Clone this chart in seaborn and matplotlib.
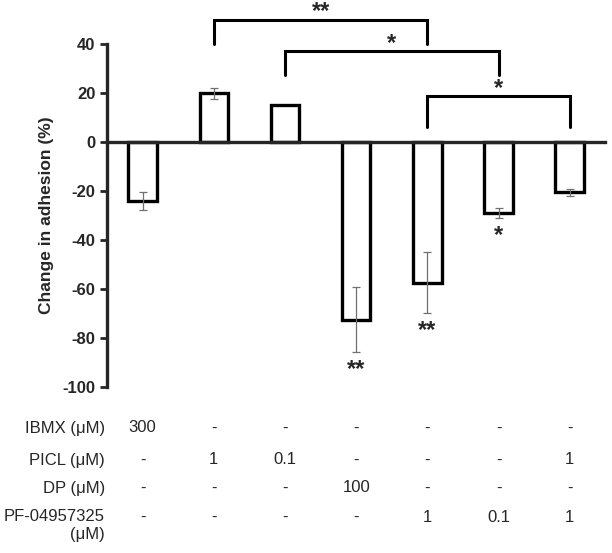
import numpy as np
import pandas as pd
import matplotlib
matplotlib.use("Agg")
import matplotlib.pyplot as plt
import seaborn as sns

sns.set_style("ticks")
plt.rcParams["font.family"] = ["Liberation Sans", "DejaVu Sans"]
plt.rcParams["axes.unicode_minus"] = False

# values
groups = ["g1", "g2", "g3", "g4", "g5", "g6", "g7"]
change = [-24, 20, 15, -72.5, -57.3, -29, -20.5]
err = [3.6, 2.2, 0, 13.2, 12.3, 2.1, 1.4]
below_stars = {3: "**", 4: "**", 5: "*"}
# brackets: (left bar, right bar, top y, leg bottom y, label)
brackets = [(1, 4, 50, 40, "**"), (2, 5, 37.3, 27.6, "*"), (4, 6, 18.9, 6.2, "*")]

row_labels = ["IBMX (μM)", "PICL (μM)", "DP (μM)", "PF-04957325\n(μM)"]
row_values = [
    ["300", "-", "-", "-", "-", "-", "-"],
    ["-", "1", "0.1", "-", "-", "-", "1"],
    ["-", "-", "-", "100", "-", "-", "-"],
    ["-", "-", "-", "-", "1", "0.1", "1"],
]

df = pd.DataFrame({"group": groups, "change": change})

fig = plt.figure(figsize=(6.12, 5.53), dpi=100)
ax = fig.add_axes([0.175, 0.300, 0.814, 0.620])

sns.barplot(data=df, x="group", y="change", ax=ax, width=0.4, color="white",
            edgecolor="black", linewidth=2.4, errorbar=None)
xpos = np.arange(len(groups))
has_err = np.array(err) > 0
ax.errorbar(xpos[has_err], np.array(change)[has_err], yerr=np.array(err)[has_err],
            fmt="none", ecolor="#707070", elinewidth=0.9, capsize=3,
            capthick=0.9, zorder=3)

ax.set_xlim(-0.5, 6.5)
ax.set_ylim(-100, 40)
ax.set_yticks(range(-100, 41, 20))
ax.tick_params(axis="y", labelsize=12, width=2, length=5, direction="out")
for t in ax.get_yticklabels():
    t.set_fontweight("bold")
ax.set_xticks([])
ax.set_xlabel("")
ax.set_ylabel("Change in adhesion (%)", fontsize=12.5, fontweight="bold", labelpad=6)
ax.spines["top"].set_visible(False)
ax.spines["right"].set_visible(False)
ax.spines["bottom"].set_position(("data", 0))
ax.spines["bottom"].set_linewidth(2.4)
ax.spines["left"].set_linewidth(2.4)

# significance stars under bars
for i, s in below_stars.items():
    ax.text(i, change[i] - err[i] - 2.5, s, ha="center", va="top",
            fontsize=17, fontweight="bold")

# brackets above
for a, b, top, bot, s in brackets:
    ax.plot([a, a, b, b], [bot, top, top, bot], color="black", lw=2.2,
            clip_on=False, solid_joinstyle="miter")
    ax.text((a + b) / 2, top - 1.5, s, ha="center", va="bottom",
            fontsize=17, fontweight="bold", clip_on=False)

# treatment table below the axis
row_y = [428, 460, 488, 517]
for r, (lab, vals) in enumerate(zip(row_labels, row_values)):
    yfig = 1 - row_y[r] / 553
    if "\n" in lab:
        fig.text(105 / 612, yfig + 8 / 553, lab, ha="right", va="top",
                 fontsize=12, linespacing=1.25)
    else:
        fig.text(105 / 612, yfig, lab, ha="right", va="center", fontsize=12)
    for i, v in enumerate(vals):
        xfig = fig.transFigure.inverted().transform(ax.transData.transform((i, 0)))[0]
        fig.text(xfig, yfig, v, ha="center", va="center", fontsize=12)

fig.savefig("out.png", dpi=100)
